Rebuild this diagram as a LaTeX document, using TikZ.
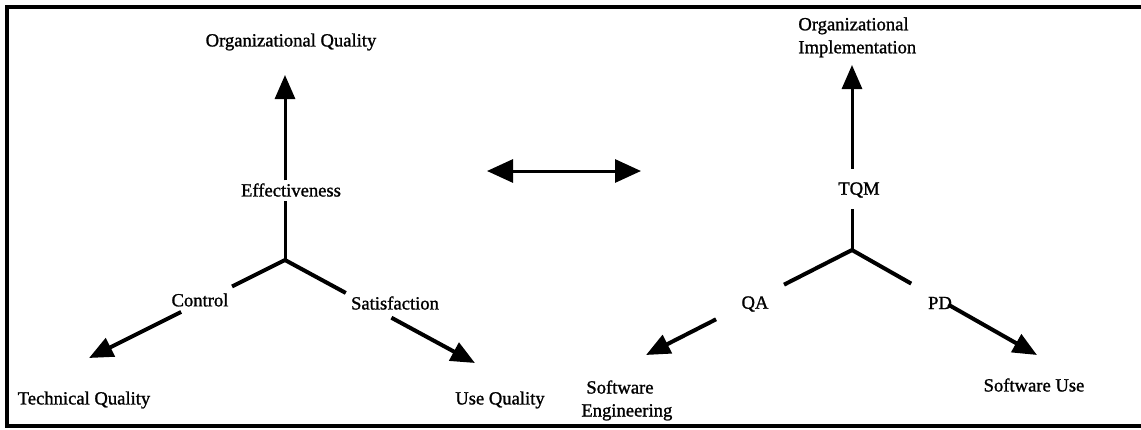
\documentclass[tikz,border=0pt]{standalone}
\usepackage{fontspec}
\setmainfont{Liberation Serif}[FakeBold=1.2]
\usetikzlibrary{arrows.meta}
\usetikzlibrary{calc}

\begin{document}
\begin{tikzpicture}[x=0.5pt,y=-0.5pt,
		font=\fontsize{9.3}{11.5}\selectfont,
		stem/.style={line width=1.5pt},
		limb/.style={line width=2pt},
		tip/.style={-{Triangle[length=12pt,width=10pt]}},
		link/.style={line width=1.5pt,{Triangle[length=13pt,width=11.5pt]}-{Triangle[length=13pt,width=11.5pt]}}]
		\useasboundingbox (0,0) rectangle (1141,429);
		% frame, open on the right
		\draw [line width=1.6pt] (1141,7) -- (7,7) -- (7,426) -- (1141,426);

		% quality triangle
		\coordinate (qc) at (285,260);
		\coordinate (qtop) at (285,75);
		\coordinate (qleft) at (89,358);
		\coordinate (qright) at (475,363);
		\node (orgq) at (291,42) {Organizational Quality};
		\node (eff) at (291,190) {Effectiveness};
		\node (ctrl) at (200,300) {Control};
		\node (sat) at (395,303) {Satisfaction};
		\node (techq) at (84,400) {Technical Quality};
		\node (useq) at (500,400) {Use Quality};
		\draw [stem] (qc) -- ($(qc)!.32!(qtop)$);
		\draw [stem,tip] ($(qc)!.43!(qtop)$) -- (qtop);
		\draw [limb] (qc) -- ($(qc)!.27!(qleft)$);
		\draw [limb,tip] ($(qc)!.53!(qleft)$) -- (qleft);
		\draw [limb] (qc) -- ($(qc)!.32!(qright)$);
		\draw [limb,tip] ($(qc)!.56!(qright)$) -- (qright);

		% correspondence
		\coordinate (la) at (487,171);
		\coordinate (ra) at (641,171);
		\draw [link] (la) -- (ra);

		% practice triangle
		\coordinate (rc) at (852,250);
		\coordinate (rtop) at (852,65);
		\coordinate (rleft) at (646,355);
		\coordinate (rright) at (1037,355);
		\node [anchor=north west,inner sep=0,align=left] (orgi) at (798,17) {Organizational\\Implementation};
		\node (tqm) at (859,190) {TQM};
		\node (qa) at (755,304) {QA};
		\node (pd) at (940,303) {PD};
		\node [anchor=north west,inner sep=0,align=left] (swe) at (581,380) {\hspace{2.5pt}Software\\Engineering};
		\node (swu) at (1034,385) {Software Use};
		\draw [stem] (rc) -- ($(rc)!.22!(rtop)$);
		\draw [stem,tip] ($(rc)!.44!(rtop)$) -- (rtop);
		\draw [limb] (rc) -- ($(rc)!.33!(rleft)$);
		\draw [limb,tip] ($(rc)!.66!(rleft)$) -- (rleft);
		\draw [limb] (rc) -- ($(rc)!.32!(rright)$);
		\draw [limb,tip] ($(rc)!.52!(rright)$) -- (rright);
	\end{tikzpicture}
\end{document}
